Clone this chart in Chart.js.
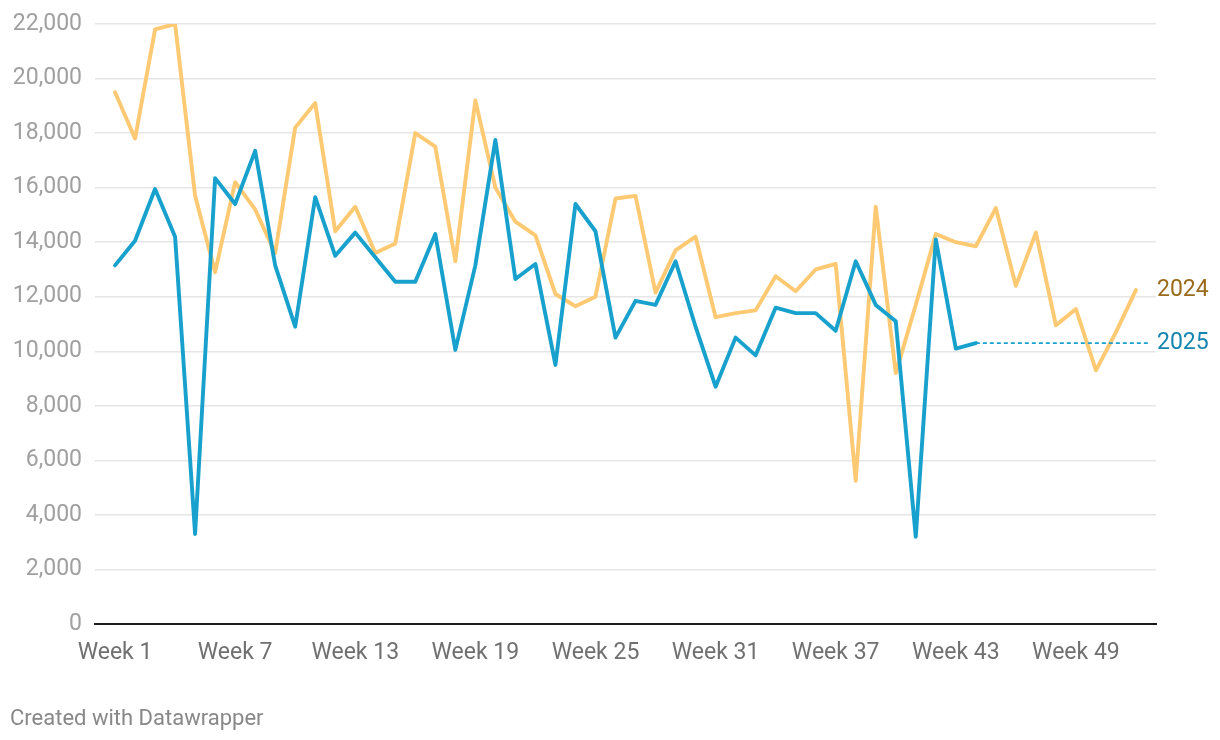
<!DOCTYPE html>
<html>
<head>
<meta charset="utf-8">
<script src="https://cdn.jsdelivr.net/npm/chart.js@4.4.1/dist/chart.umd.min.js"></script>
<style>
  html, body { margin: 0; padding: 0; background: #ffffff; }
  #wrap { position: relative; width: 1220px; height: 740px; }
  #c { position: absolute; left: 0; top: 0; }
  #footer { position: absolute; left: 10px; top: 707px; font-family: Roboto, sans-serif; font-size: 22px; line-height: 22px; color: #888888; white-space: nowrap; }
</style>
</head>
<body>
<div id="wrap">
  <canvas id="c" width="1220" height="740"></canvas>
  <div id="footer">Created with Datawrapper</div>
</div>
<script>
const weeks = [1,2,3,4,5,6,7,8,9,10,11,12,13,14,15,16,17,18,19,20,21,22,23,24,25,26,27,28,29,30,31,32,33,34,35,36,37,38,39,40,41,42,43,44,45,46,47,48,49,50,51,52];
const values2024 = [19500, 17800, 21800, 22000, 15700, 12900, 16200, 15200, 13600, 18200, 19100, 14400, 15300, 13600, 13950, 18000, 17500, 13300, 19200, 16000, 14750, 14250, 12100, 11650, 12000, 15600, 15700, 12150, 13700, 14200, 11250, 11400, 11500, 12750, 12200, 13000, 13200, 5250, 15300, 9200, 11700, 14300, 14000, 13850, 15250, 12400, 14350, 10950, 11550, 9300, 10700, 12250];
const values2025 = [13150, 14050, 15950, 14200, 3300, 16350, 15400, 17350, 13150, 10900, 15650, 13500, 14350, 13450, 12550, 12550, 14300, 10050, 13150, 17750, 12650, 13200, 9500, 15400, 14400, 10500, 11850, 11700, 13300, 10900, 8700, 10500, 9850, 11600, 11400, 11400, 10750, 13300, 11700, 11100, 3200, 14100, 10100, 10300];
const tickWeeks = [1, 7, 13, 19, 25, 31, 37, 43, 49];
const tickLabels = ['Week 1', 'Week 7', 'Week 13', 'Week 19', 'Week 25', 'Week 31', 'Week 37', 'Week 43', 'Week 49'];
const yTicks = [0, 2000, 4000, 6000, 8000, 10000, 12000, 14000, 16000, 18000, 20000, 22000];
const seriesNames = ['2024', '2025'];

const COL24 = '#fec973';
const COL25 = '#18a1cd';
const LAB24 = '#9a6a1c';
const LAB25 = '#1585b0';

const pts = (vals) => vals.map((v, i) => ({ x: weeks[i], y: v }));

const endLabels = {
  id: 'endLabels',
  afterDatasetsDraw(chart) {
    const ctx = chart.ctx;
    const xs = chart.scales.x, ys = chart.scales.y;
    const area = chart.chartArea;
    const last25 = values2025[values2025.length - 1];
    const x0 = xs.getPixelForValue(weeks[values2025.length - 1]);
    const yy = ys.getPixelForValue(last25);
    ctx.save();
    ctx.strokeStyle = COL25;
    ctx.lineWidth = 1.6;
    ctx.setLineDash([4, 3]);
    ctx.beginPath();
    ctx.moveTo(x0, yy);
    ctx.lineTo(area.right - 8, yy);
    ctx.stroke();
    ctx.setLineDash([]);
    ctx.font = '23px Roboto, sans-serif';
    ctx.textAlign = 'left';
    ctx.textBaseline = 'middle';
    ctx.fillStyle = LAB24;
    ctx.fillText(seriesNames[0], area.right + 1, ys.getPixelForValue(values2024[values2024.length - 1]));
    ctx.fillStyle = LAB25;
    ctx.fillText(seriesNames[1], area.right + 1, yy);
    ctx.restore();
  }
};

new Chart(document.getElementById('c'), {
  type: 'line',
  data: {
    datasets: [
      { label: seriesNames[1], data: pts(values2025), borderColor: COL25, borderWidth: 3.9, pointRadius: 0, tension: 0, borderJoinStyle: 'round', borderCapStyle: 'round', order: 0 },
      { label: seriesNames[0], data: pts(values2024), borderColor: COL24, borderWidth: 3.9, pointRadius: 0, tension: 0, borderJoinStyle: 'round', borderCapStyle: 'round', order: 1 }
    ]
  },
  options: {
    responsive: false,
    animation: false,
    devicePixelRatio: 1,
    layout: { padding: { top: 24, right: 64, bottom: 0, left: 0 } },
    plugins: { legend: { display: false }, tooltip: { enabled: false } },
    scales: {
      x: {
        type: 'linear',
        min: 0,
        max: 53,
        afterBuildTicks: (s) => { s.ticks = tickWeeks.map(v => ({ value: v })); },
        afterFit: (s) => { s.height = 116; s.paddingLeft = 0; s.paddingRight = 0; },
        grid: { display: false, drawTicks: false },
        border: { display: true, color: '#1d1d1d', width: 2 },
        ticks: {
          autoSkip: false, maxRotation: 0, padding: 15,
          color: '#707070',
          font: { family: 'Roboto', size: 23 },
          callback: (v) => { const i = tickWeeks.indexOf(v); return i >= 0 ? tickLabels[i] : ''; }
        }
      },
      y: {
        min: 0,
        max: 22000,
        afterBuildTicks: (s) => { s.ticks = yTicks.map(v => ({ value: v })); },
        afterFit: (s) => { s.width = 95; s.paddingTop = 0; s.paddingBottom = 0; },
        grid: { color: '#e6e6e6', lineWidth: 1.5, drawTicks: false },
        border: { display: false },
        ticks: {
          padding: 13,
          color: '#a0a0a0',
          font: { family: 'Roboto', size: 23, lineHeight: 1 },
          callback: (v) => v.toLocaleString('en-US')
        }
      }
    }
  },
  plugins: [endLabels]
});
</script>
</body>
</html>
